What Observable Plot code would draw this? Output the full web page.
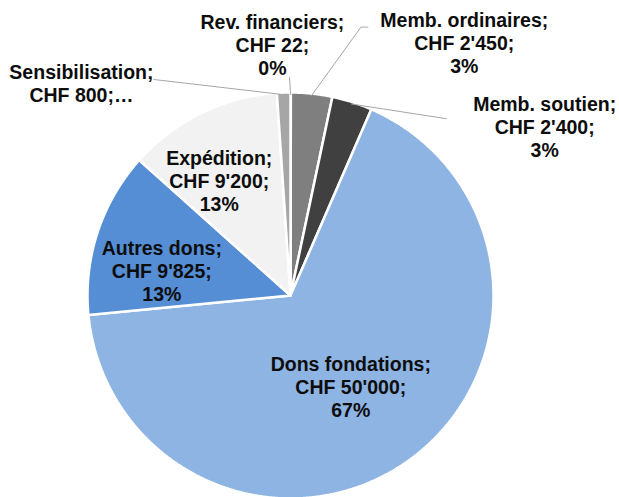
<!DOCTYPE html>
<html>
<head>
<meta charset="utf-8">
<script src="https://cdn.jsdelivr.net/npm/d3@7"></script>
<script src="https://cdn.jsdelivr.net/npm/@observablehq/plot@0.6"></script>
<style>
  html, body { margin: 0; padding: 0; background: #fff; }
  #chart { width: 619px; height: 497px; overflow: hidden; }
</style>
</head>
<body>
<div id="chart"></div>
<script>
// ---- data (clockwise from 12 o'clock) ----
const categories = ["Rev. financiers", "Memb. ordinaires", "Memb. soutien", "Dons fondations", "Autres dons", "Expédition", "Sensibilisation"];
const values = [22, 2450, 2400, 50000, 9825, 9200, 800];
const valueLabels = ["CHF 22", "CHF 2'450", "CHF 2'400", "CHF 50'000", "CHF 9'825", "CHF 9'200", "CHF 800"];
const percentLabels = ["0%", "3%", "3%", "67%", "13%", "13%", "…"];
const colors = ["#d9d9d9", "#7f7f7f", "#404040", "#8eb4e3", "#558ed5", "#f2f2f2", "#a6a6a6"];

// ---- layout (label anchors in pie-radius units, centre = 0,0) ----
const labelPos = [
  [-0.089, 1.238], [0.856, 1.248], [1.252, 0.832], [0.297, -0.450],
  [-0.634, 0.124], [-0.351, 0.564], [-1.030, 1.047]
];
// leader line outer points (label side), null = no leader
const leaderPts = [
  [[-0.005, 1.074]],
  [[0.381, 1.322], [0.347, 1.322]],
  [[0.767, 0.871]],
  null, null, null,
  [[-0.673, 1.064]]
];

const W = 619, H = 497, R = 203, CX = 290, CY = 295;

const pie = d3.pie().sort(null).value(d => d)(values);
const slices = [];
pie.forEach((p, i) => {
  const pts = [{x: 0, y: 0}];
  const n = Math.max(2, Math.ceil((p.endAngle - p.startAngle) / 0.005));
  for (let k = 0; k <= n; k++) {
    const a = p.startAngle + (p.endAngle - p.startAngle) * k / n;
    pts.push({x: Math.sin(a), y: Math.cos(a)});
  }
  pts.push({x: 0, y: 0});
  slices.push({i, pts, mid: (p.startAngle + p.endAngle) / 2});
});

const labels = categories.map((c, i) => ({
  text: i === 6 ? `${c};\n${valueLabels[i]};…` : `${c};\n${valueLabels[i]};\n${percentLabels[i]}`,
  x: labelPos[i][0], y: labelPos[i][1]
}));

const leaders = [];
slices.forEach(s => {
  const lp = leaderPts[s.i];
  if (!lp) return;
  const pts = lp.map(([x, y]) => ({x, y}));
  pts.push({x: Math.sin(s.mid) * 0.99, y: Math.cos(s.mid) * 0.99});
  leaders.push(pts);
});

const marks = [];
slices.forEach(s => {
  marks.push(Plot.line(s.pts, {x: "x", y: "y", fill: colors[s.i], stroke: "#fff", strokeWidth: 2.5, strokeLinejoin: "round", curve: "linear"}));
});
leaders.forEach(pts => {
  marks.push(Plot.line(pts, {x: "x", y: "y", stroke: "#a6a6a6", strokeWidth: 1}));
});
marks.push(Plot.text(labels, {
  x: "x", y: "y", text: "text", lineAnchor: "middle", textAnchor: "middle",
  lineHeight: 1.18, fontSize: 19.5, fontWeight: "bold", fill: "#0d0d0d"
}));

const chart = Plot.plot({
  width: W, height: H,
  margin: 0,
  style: {fontFamily: "'Liberation Sans', Arial, sans-serif", background: "#fff", overflow: "hidden"},
  x: {domain: [-CX / R, (W - CX) / R], range: [0, W], axis: null},
  y: {domain: [-(H - CY) / R, CY / R], range: [H, 0], axis: null},
  marks
});
document.getElementById("chart").appendChild(chart);
</script>
</body>
</html>
